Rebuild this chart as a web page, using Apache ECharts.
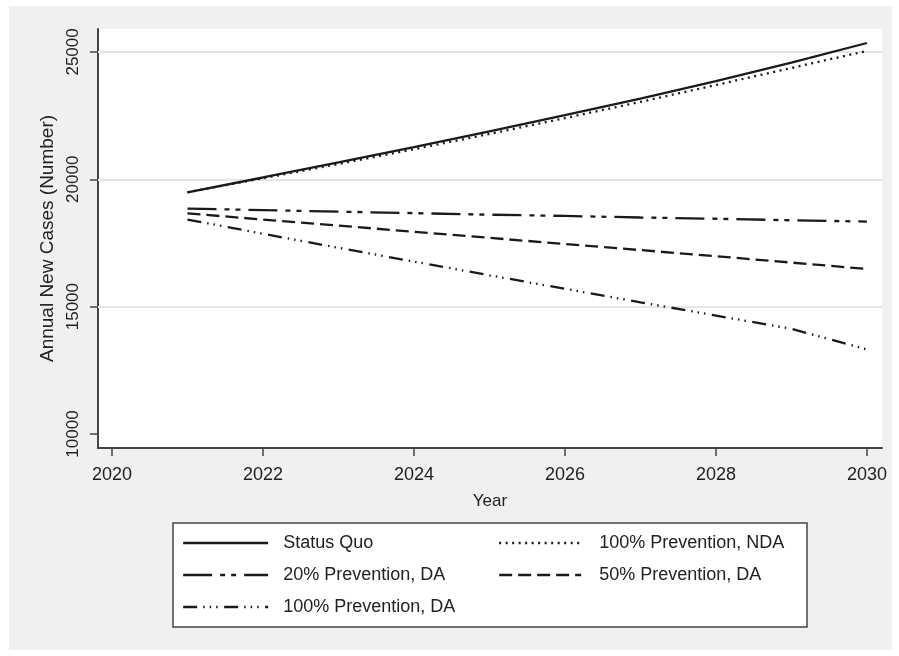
<!DOCTYPE html>
<html>
<head>
<meta charset="utf-8">
<script src="https://cdn.jsdelivr.net/npm/echarts@6/dist/echarts.min.js"></script>
<style>
html,body{margin:0;padding:0;background:#fff;}
#chart{width:899px;height:656px;}
</style>
</head>
<body>
<div id="chart"></div>
<script>
const years = [2021, 2022, 2023, 2024, 2025, 2026, 2027, 2028, 2029, 2030];
const statusQuo = [19490, 20070, 20660, 21260, 21880, 22520, 23170, 23850, 24580, 25350];
const prevNDA100 = [19490, 20040, 20600, 21180, 21780, 22400, 23040, 23700, 24370, 25040];
const prevDA20 = [18850, 18790, 18730, 18670, 18610, 18560, 18500, 18450, 18390, 18340];
const prevDA50 = [18660, 18420, 18180, 17940, 17700, 17460, 17220, 16980, 16730, 16480];
const prevDA100 = [18420, 17860, 17310, 16770, 16230, 15700, 15170, 14650, 14130, 13320];
const xTicks = [2020, 2022, 2024, 2026, 2028, 2030];
const yTicks = [10000, 15000, 20000, 25000];
const gridValues = [15000, 20000, 25000];

const FONT = "'Liberation Sans', Arial, Helvetica, sans-serif";
const INK = '#1a1a1a';

const seriesDefs = [
  {name: 'Status Quo', data: statusQuo, dash: 'solid'},
  {name: '100% Prevention, NDA', data: prevNDA100, dash: [2, 4.5]},
  {name: '20% Prevention, DA', data: prevDA20, dash: [29, 8, 5, 6, 5, 8]},
  {name: '50% Prevention, DA', data: prevDA50, dash: [13, 6]},
  {name: '100% Prevention, DA', data: prevDA100, dash: [14, 6, 1.5, 5, 1.5, 5, 1.5, 6.5]}
];

const legendPos = [
  {left: 182, top: 533},
  {left: 498, top: 533},
  {left: 182, top: 565},
  {left: 498, top: 565},
  {left: 182, top: 597}
];

const chart = echarts.init(document.getElementById('chart'), null, {renderer: 'canvas'});

const series = seriesDefs.map(function (s) {
  return {
    name: s.name,
    type: 'line',
    data: years.map(function (y, i) { return [y, s.data[i]]; }),
    symbol: 'none',
    showSymbol: false,
    z: 3,
    lineStyle: {color: INK, width: 2.3, type: s.dash, cap: 'butt'},
    itemStyle: {color: INK},
    emphasis: {disabled: true},
    animation: false
  };
});

series.push({
  name: 'grid',
  type: 'line',
  data: [],
  silent: true,
  z: 1,
  markLine: {
    silent: true,
    z: 1,
    symbol: 'none',
    label: {show: false},
    lineStyle: {color: '#e6e6e6', width: 2, type: 'solid'},
    data: gridValues.map(function (v) { return {yAxis: v}; }),
    animation: false
  }
});

const legends = seriesDefs.map(function (s, i) {
  return {
    data: [s.name],
    left: legendPos[i].left,
    top: legendPos[i].top,
    padding: 0,
    itemWidth: i % 2 === 1 ? 82 : 85,
    itemHeight: 20,
    selectedMode: false,
    itemStyle: {opacity: 0, borderWidth: 0},
    lineStyle: {width: 2.3},
    textStyle: {fontFamily: FONT, fontSize: 18, color: '#222', lineHeight: 20, padding: [0, 0, 0, i % 2 === 1 ? 13 : 10]}
  };
});

chart.setOption({
  animation: false,
  backgroundColor: '#ffffff',
  graphic: [
    {type: 'rect', z: -10, silent: true, shape: {x: 9, y: 6, width: 883, height: 644}, style: {fill: '#f0f0f0'}},
    {type: 'rect', z: -5, silent: true, shape: {x: 173, y: 523, width: 634, height: 104}, style: {fill: '#ffffff', stroke: '#444', lineWidth: 1.5}}
  ],
  grid: {left: 98, right: 17, top: 29, bottom: 208, show: true, backgroundColor: '#ffffff', borderWidth: 0},
  legend: legends,
  xAxis: {
    type: 'value',
    min: 2019.815,
    max: 2030.2,
    name: 'Year',
    nameLocation: 'middle',
    nameGap: 45,
    nameTextStyle: {fontFamily: FONT, fontSize: 17, color: '#222'},
    axisLine: {show: true, lineStyle: {color: '#444', width: 2}},
    axisTick: {show: true, length: 8, customValues: xTicks, lineStyle: {color: '#444', width: 1.5}},
    axisLabel: {customValues: xTicks, margin: 18, fontFamily: FONT, fontSize: 18, color: '#222', formatter: function (v) { return String(v); }},
    splitLine: {show: false}
  },
  yAxis: {
    type: 'value',
    min: 9450,
    max: 25900,
    name: 'Annual New Cases (Number)',
    nameLocation: 'middle',
    nameRotate: 90,
    nameGap: 36,
    nameTextStyle: {fontFamily: FONT, fontSize: 19, color: '#222'},
    axisLine: {show: true, lineStyle: {color: '#444', width: 2}},
    axisTick: {show: true, length: 8, customValues: yTicks, lineStyle: {color: '#444', width: 1.5}},
    axisLabel: {customValues: yTicks, rotate: 90, margin: 16, fontFamily: FONT, fontSize: 17, color: '#222', formatter: function (v) { return String(v); }},
    splitLine: {show: false}
  },
  series: series
});
</script>
</body>
</html>
